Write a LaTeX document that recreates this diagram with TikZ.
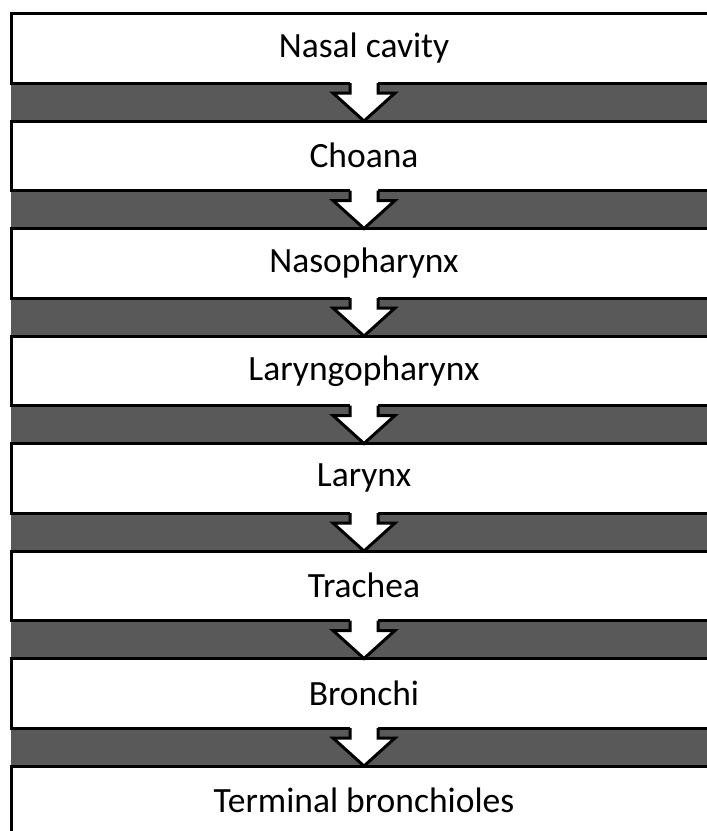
\documentclass[tikz,border=0pt]{standalone}
\usepackage{fontspec}
\setmainfont{Carlito}
\usetikzlibrary{calc}
\definecolor{bandgray}{HTML}{595959}
\tikzset{
  stagebox/.style={draw=black, fill=white, line width=3pt, minimum width=706pt,
    minimum height=69.5pt, inner sep=0pt, outer sep=0pt,
    font=\fontsize{35.5pt}{42pt}\selectfont},
  flowarrowfill/.style={fill=white},
  flowarrowline/.style={draw=black, line width=3pt, line join=miter}
}
\begin{document}
\begin{tikzpicture}[x=1pt,y=-1pt]
\clip (0,0) rectangle (707,831);
\fill[white] (0,0) rectangle (707,831);
% gray band behind all boxes
\fill[bandgray] (11,83) rectangle (717,766);
\foreach \t [count=\i] in {Nasal cavity,Choana,Nasopharynx,Laryngopharynx,Larynx,Trachea,Bronchi,Terminal bronchioles}{
  \node[stagebox] (b\i) at (364,{13.5+107.5*(\i-1)+34.75}) {\raisebox{-2pt}{\t}};
}
\foreach \i [evaluate=\i as \j using int(\i+1)] in {1,...,7}{
  \fill[flowarrowfill] ($(b\i.south)+(-14,-2.5)$) -- ($(b\i.south)+(-14,10)$) -- ($(b\i.south)+(-31,10)$)
     -- (b\j.north) -- ($(b\i.south)+(31,10)$) -- ($(b\i.south)+(14,10)$) -- ($(b\i.south)+(14,-2.5)$) -- cycle;
  \draw[flowarrowline] ($(b\i.south)+(-14,0)$) -- ($(b\i.south)+(-14,10)$) -- ($(b\i.south)+(-31,10)$)
     -- (b\j.north) -- ($(b\i.south)+(31,10)$) -- ($(b\i.south)+(14,10)$) -- ($(b\i.south)+(14,0)$);
}
\end{tikzpicture}
\end{document}
